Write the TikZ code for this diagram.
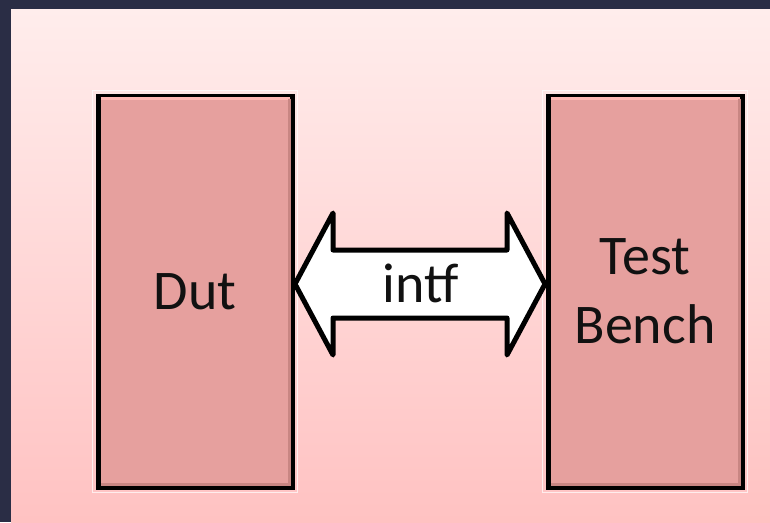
\documentclass[tikz,border=0pt]{standalone}
\usepackage{fontspec}
\setmainfont{Carlito}
\definecolor{frame}{RGB}{42,45,69}
\definecolor{bgtop}{RGB}{255,237,236}
\definecolor{bgbot}{RGB}{255,194,194}
\definecolor{boxfill}{RGB}{230,160,158}
\definecolor{boxlight}{RGB}{255,184,180}
\definecolor{boxdark}{RGB}{200,134,131}
\definecolor{ink}{RGB}{17,17,17}
\begin{document}
\begin{tikzpicture}[x=1pt,y=-1pt,
  box/.style={draw=black, line width=5pt, fill=boxfill, minimum width=194pt, minimum height=391pt, inner sep=0pt, align=center, text=ink, font=\fontsize{56}{69}\selectfont},
  glow/.style={draw=white, line width=1.2pt, opacity=0.7},
  arrowshape/.style={draw=black, fill=white, line width=5pt, line join=round},
  label/.style={text=ink, font=\fontsize{56}{64}\selectfont, inner sep=0pt}]
\useasboundingbox (0,0) rectangle (770,522);
\fill[frame] (0,0) rectangle (770,522);
\shade[top color=bgtop, bottom color=bgbot] (11,9) rectangle (770,522);
% boxes
\node[box] (dut) at (195,291.5) {Dut};
\node[box] (tb) at (645,291.5) {Test\\Bench};
% glow and bevel of boxes
\foreach \b in {dut,tb}{
  \draw[glow] ([shift={(-3.2,-3.2)}]\b.north west) rectangle ([shift={(3.2,3.2)}]\b.south east);
  \draw[boxlight, line width=3pt] ([shift={(5,5)}]\b.north west) -- ([shift={(-5,5)}]\b.north east);
  \draw[boxdark, line width=3pt] ([shift={(-5,5)}]\b.north east) -- ([shift={(-5,-5)}]\b.south east) -- ([shift={(5,-5)}]\b.south west);
}
% double arrow
\coordinate (tipL) at (295,284);
\coordinate (tipR) at (545,284);
\draw[arrowshape] (tipL) -- (333,213) -- (333,250) -- (507,250) -- (507,213) -- (tipR)
  -- (507,355) -- (507,318) -- (333,318) -- (333,355) -- cycle;
\node[label] (intf) at (421,283) {intf};
\end{tikzpicture}
\end{document}
